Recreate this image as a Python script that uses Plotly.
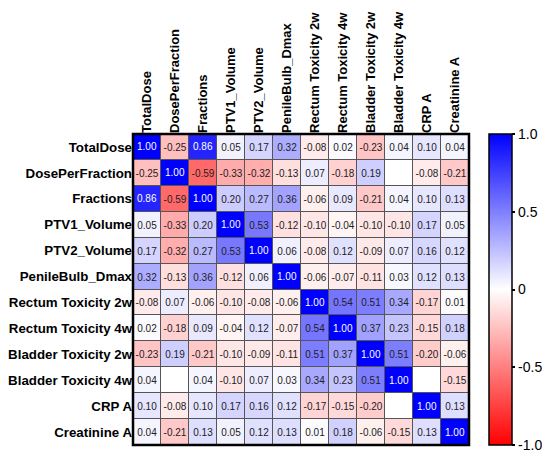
import plotly.graph_objects as go

labels = ['TotalDose', 'DosePerFraction', 'Fractions', 'PTV1_Volume', 'PTV2_Volume',
          'PenileBulb_Dmax', 'Rectum Toxicity 2w', 'Rectum Toxicity 4w',
          'Bladder Toxicity 2w', 'Bladder Toxicity 4w', 'CRP A', 'Creatinine A']

# correlation matrix, None = blank cell in the original
corr = [
    [1.00, -0.25, 0.86, 0.05, 0.17, 0.32, -0.08, 0.02, -0.23, 0.04, 0.10, 0.04],
    [-0.25, 1.00, -0.59, -0.33, -0.32, -0.13, 0.07, -0.18, 0.19, None, -0.08, -0.21],
    [0.86, -0.59, 1.00, 0.20, 0.27, 0.36, -0.06, 0.09, -0.21, 0.04, 0.10, 0.13],
    [0.05, -0.33, 0.20, 1.00, 0.53, -0.12, -0.10, -0.04, -0.10, -0.10, 0.17, 0.05],
    [0.17, -0.32, 0.27, 0.53, 1.00, 0.06, -0.08, 0.12, -0.09, 0.07, 0.16, 0.12],
    [0.32, -0.13, 0.36, -0.12, 0.06, 1.00, -0.06, -0.07, -0.11, 0.03, 0.12, 0.13],
    [-0.08, 0.07, -0.06, -0.10, -0.08, -0.06, 1.00, 0.54, 0.51, 0.34, -0.17, 0.01],
    [0.02, -0.18, 0.09, -0.04, 0.12, -0.07, 0.54, 1.00, 0.37, 0.23, -0.15, 0.18],
    [-0.23, 0.19, -0.21, -0.10, -0.09, -0.11, 0.51, 0.37, 1.00, 0.51, -0.20, -0.06],
    [0.04, None, 0.04, -0.10, 0.07, 0.03, 0.34, 0.23, 0.51, 1.00, None, -0.15],
    [0.10, -0.08, 0.10, 0.17, 0.16, 0.12, -0.17, -0.15, -0.20, None, 1.00, 0.13],
    [0.04, -0.21, 0.13, 0.05, 0.12, 0.13, 0.01, 0.18, -0.06, -0.15, 0.13, 1.00],
]

cb_vals = [1.0, 0.5, 0, -0.5, -1.0]
cb_text = ['1.0', '0.5', '0', '-0.5', '-1.0']

FONT = 'Liberation Sans, Arial'

fig = go.Figure()

# white underlay so blank cells stay white
fig.add_trace(go.Heatmap(
    z=[[0 for _ in row] for row in corr], x=labels, y=labels,
    colorscale=[[0, 'white'], [1, 'white']], showscale=False,
    xgap=1, ygap=1, hoverinfo='skip'))

# dark text everywhere except the darkest blue cells
cell_text = [['' if v is None or v > 0.8 else f'{v:.2f}' for v in row] for row in corr]

fig.add_trace(go.Heatmap(
    z=corr, x=labels, y=labels, zmin=-1, zmax=1,
    colorscale=[[0, '#ff0000'], [0.5, '#ffffff'], [1, '#0000ff']],
    xgap=1, ygap=1,
    text=cell_text, texttemplate='%{text}',
    textfont=dict(family=FONT, size=10, color='#222'),
    colorbar=dict(
        x=1.06, xanchor='left', xpad=0, y=0.5, ypad=0, len=1.0, lenmode='fraction',
        thickness=23, outlinecolor='black', outlinewidth=1.5,
        tickvals=cb_vals, ticktext=cb_text, ticks='outside', ticklen=3,
        tickcolor='black', tickwidth=1.5,
        tickfont=dict(family=FONT, size=14, color='black'),
    ),
))

# white text on the darkest blue cells
for i, row in enumerate(corr):
    for j, v in enumerate(row):
        if v is not None and v > 0.8:
            fig.add_annotation(x=labels[j], y=labels[i], text=f'{v:.2f}', showarrow=False,
                               font=dict(family=FONT, size=10, color='white'))

fig.add_shape(type='rect', xref='paper', yref='paper', x0=0, y0=0, x1=1, y1=1,
              line=dict(color='black', width=2.5))

# page body adds 8px, so the figure is 8px smaller than the window
fig.update_layout(
    width=542, height=448,
    margin=dict(l=125, r=81, t=126, b=11, autoexpand=False),
    paper_bgcolor='white', plot_bgcolor='#555555',
    font=dict(family=FONT, color='black'),
    xaxis=dict(side='top', tickangle=-90, showgrid=False, zeroline=False,
               tickfont=dict(size=13), ticks='', automargin=False,
               tickvals=labels, ticktext=[f'<b>{l}</b>' for l in labels]),
    yaxis=dict(autorange='reversed', showgrid=False, zeroline=False,
               tickfont=dict(size=13.3), ticks='', automargin=False,
               tickvals=labels, ticktext=[f'<b>{l}</b>' for l in labels]),
)

fig.write_html('out.html')
